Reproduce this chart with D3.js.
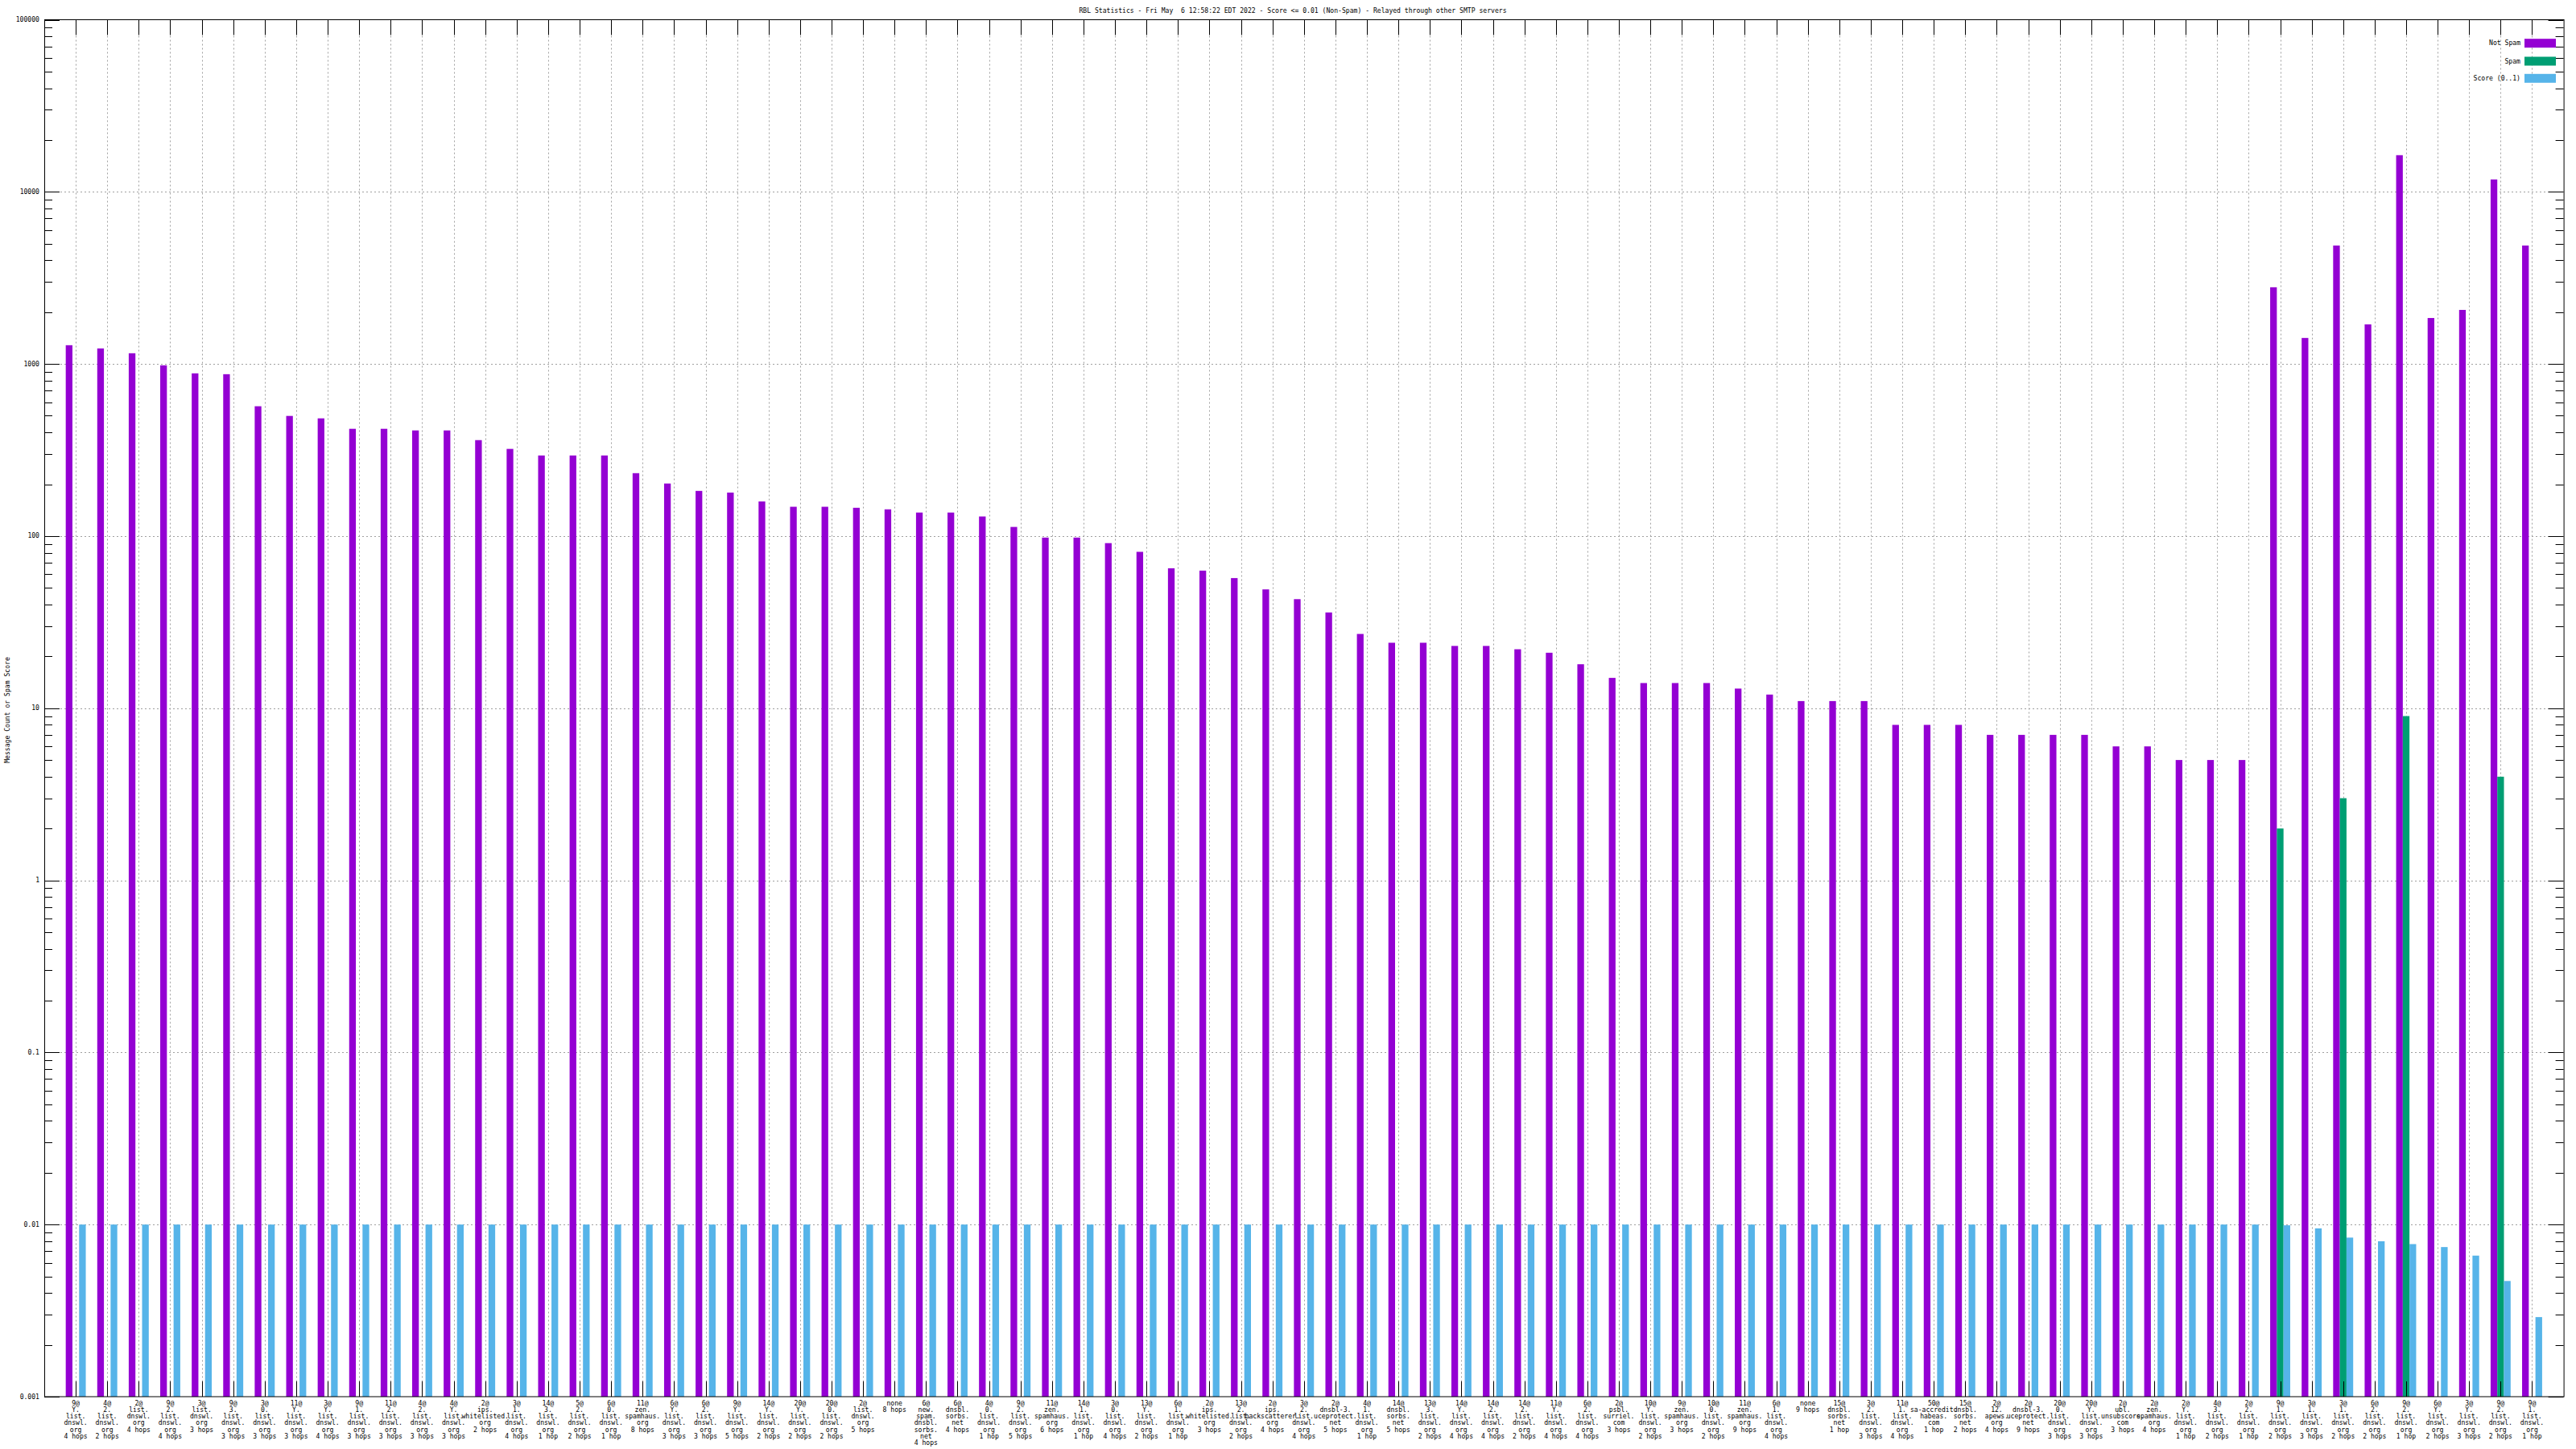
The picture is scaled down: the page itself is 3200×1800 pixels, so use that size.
<!DOCTYPE html>
<html><head><meta charset="utf-8">
<script src="https://cdn.jsdelivr.net/npm/d3@7"></script>
<style>
body{margin:0;background:#fff}
svg{display:block}
text{font-family:"DejaVu Sans Mono",monospace;fill:#000}
</style>
</head><body>
<script>
const categories = [
"9@\nY.\nlist.\ndnswl.\norg\n4 hops","4@\n2.\nlist.\ndnswl.\norg\n2 hops","2@\nlist.\ndnswl.\norg\n4 hops","9@\n2.\nlist.\ndnswl.\norg\n4 hops",
"3@\nlist.\ndnswl.\norg\n3 hops","9@\n3.\nlist.\ndnswl.\norg\n3 hops","3@\n0.\nlist.\ndnswl.\norg\n3 hops","11@\nY.\nlist.\ndnswl.\norg\n3 hops",
"3@\nY.\nlist.\ndnswl.\norg\n4 hops","9@\n1.\nlist.\ndnswl.\norg\n3 hops","11@\n2.\nlist.\ndnswl.\norg\n3 hops","4@\n2.\nlist.\ndnswl.\norg\n3 hops",
"4@\nY.\nlist.\ndnswl.\norg\n3 hops","2@\nips.\nwhitelisted.\norg\n2 hops","3@\n1.\nlist.\ndnswl.\norg\n4 hops","14@\n3.\nlist.\ndnswl.\norg\n1 hop",
"5@\n2.\nlist.\ndnswl.\norg\n2 hops","6@\n0.\nlist.\ndnswl.\norg\n1 hop","11@\nzen.\nspamhaus.\norg\n8 hops","6@\nY.\nlist.\ndnswl.\norg\n3 hops",
"6@\n2.\nlist.\ndnswl.\norg\n3 hops","9@\nY.\nlist.\ndnswl.\norg\n5 hops","14@\nY.\nlist.\ndnswl.\norg\n2 hops","20@\nY.\nlist.\ndnswl.\norg\n2 hops",
"20@\n0.\nlist.\ndnswl.\norg\n2 hops","2@\nlist.\ndnswl.\norg\n5 hops","none\n8 hops","6@\nnew.\nspam.\ndnsbl.\nsorbs.\nnet\n4 hops",
"6@\ndnsbl.\nsorbs.\nnet\n4 hops","4@\n0.\nlist.\ndnswl.\norg\n1 hop","9@\n2.\nlist.\ndnswl.\norg\n5 hops","11@\nzen.\nspamhaus.\norg\n6 hops",
"14@\n1.\nlist.\ndnswl.\norg\n1 hop","3@\n0.\nlist.\ndnswl.\norg\n4 hops","13@\nY.\nlist.\ndnswl.\norg\n2 hops","6@\n1.\nlist.\ndnswl.\norg\n1 hop",
"2@\nips.\nwhitelisted.\norg\n3 hops","13@\n2.\nlist.\ndnswl.\norg\n2 hops","2@\nips.\nbackscatterer.\norg\n4 hops","3@\n2.\nlist.\ndnswl.\norg\n4 hops",
"2@\ndnsbl-3.\nuceprotect.\nnet\n5 hops","4@\n1.\nlist.\ndnswl.\norg\n1 hop","14@\ndnsbl.\nsorbs.\nnet\n5 hops","13@\n3.\nlist.\ndnswl.\norg\n2 hops",
"14@\nY.\nlist.\ndnswl.\norg\n4 hops","14@\n2.\nlist.\ndnswl.\norg\n4 hops","14@\n2.\nlist.\ndnswl.\norg\n2 hops","11@\nY.\nlist.\ndnswl.\norg\n4 hops",
"6@\n2.\nlist.\ndnswl.\norg\n4 hops","2@\npsbl.\nsurriel.\ncom\n3 hops","10@\nY.\nlist.\ndnswl.\norg\n2 hops","9@\nzen.\nspamhaus.\norg\n3 hops",
"10@\n0.\nlist.\ndnswl.\norg\n2 hops","11@\nzen.\nspamhaus.\norg\n9 hops","6@\n1.\nlist.\ndnswl.\norg\n4 hops","none\n9 hops",
"15@\ndnsbl.\nsorbs.\nnet\n1 hop","3@\n2.\nlist.\ndnswl.\norg\n3 hops","11@\n1.\nlist.\ndnswl.\norg\n4 hops","50@\nsa-accredit.\nhabeas.\ncom\n1 hop",
"15@\ndnsbl.\nsorbs.\nnet\n2 hops","2@\n12.\napews.\norg\n4 hops","2@\ndnsbl-3.\nuceprotect.\nnet\n9 hops","20@\n0.\nlist.\ndnswl.\norg\n3 hops",
"20@\nY.\nlist.\ndnswl.\norg\n3 hops","2@\nubl.\nunsubscore.\ncom\n3 hops","2@\nzen.\nspamhaus.\norg\n4 hops","2@\nY.\nlist.\ndnswl.\norg\n1 hop",
"4@\n3.\nlist.\ndnswl.\norg\n2 hops","2@\n2.\nlist.\ndnswl.\norg\n1 hop","9@\n1.\nlist.\ndnswl.\norg\n2 hops","3@\n1.\nlist.\ndnswl.\norg\n3 hops",
"3@\n1.\nlist.\ndnswl.\norg\n2 hops","6@\n2.\nlist.\ndnswl.\norg\n2 hops","9@\n2.\nlist.\ndnswl.\norg\n1 hop","6@\nY.\nlist.\ndnswl.\norg\n2 hops",
"3@\nY.\nlist.\ndnswl.\norg\n3 hops","9@\n2.\nlist.\ndnswl.\norg\n2 hops","9@\n1.\nlist.\ndnswl.\norg\n1 hop"
];
const notSpam = [
1285,1231,1154,982,882,872,568,499,483,420,
420,411,411,361,321,294,294,294,232,202,
183,179,159,148,148,146,143,137,137,130,
113,98,98,91,81,65,63,57,49,43,
36,27,24,24,23,23,22,21,18,15,
14,14,14,13,12,11,11,11,8,8,
8,7,7,7,7,6,6,5,5,5,
2790,1416,4875,1698,16330,1849,2061,11800,4875
];
const spam = [
0,0,0,0,0,0,0,0,0,0,0,0,0,0,0,0,0,0,0,0,
0,0,0,0,0,0,0,0,0,0,0,0,0,0,0,0,0,0,0,0,
0,0,0,0,0,0,0,0,0,0,0,0,0,0,0,0,0,0,0,0,
0,0,0,0,0,0,0,0,0,0,
2,0,3,0,9,0,0,4,0
];
const score = [
0.01,0.01,0.01,0.01,0.01,0.01,0.01,0.01,0.01,0.01,0.01,0.01,0.01,0.01,0.01,0.01,0.01,0.01,0.01,0.01,
0.01,0.01,0.01,0.01,0.01,0.01,0.01,0.01,0.01,0.01,0.01,0.01,0.01,0.01,0.01,0.01,0.01,0.01,0.01,0.01,
0.01,0.01,0.01,0.01,0.01,0.01,0.01,0.01,0.01,0.01,0.01,0.01,0.01,0.01,0.01,0.01,0.01,0.01,0.01,0.01,
0.01,0.01,0.01,0.01,0.01,0.01,0.01,0.01,0.01,0.01,
0.0099,0.0095,0.0084,0.0080,0.0077,0.0074,0.0066,0.0047,0.0029
];
const seriesNames = ["Not Spam","Spam","Score (0..1)"];
const seriesColors = ["#9400d3","#009e73","#56b4e9"];
const yTickValues = [100000,10000,1000,100,10,1,0.1,0.01,0.001];
const yTickLabels = ["100000","10000","1000","100","10","1","0.1","0.01","0.001"];
const titleText = "RBL Statistics - Fri May  6 12:58:22 EDT 2022 - Score <= 0.01 (Non-Spam) - Relayed through other SMTP servers";
const yAxisTitle = "Message Count or Spam Score";

const W = 3200, H = 1800;
const L = 55, R = 3184.6, T = 24.5, B = 1735;
const FS = 8.1;

const svg = d3.select("body").append("svg").attr("width", W).attr("height", H)
  .style("background", "#fff");
svg.append("rect").attr("width", W).attr("height", H).attr("fill", "#fff");

const n = categories.length;
const x = d3.scaleLinear().domain([-1, n]).range([L, R]);
const y = d3.scaleLog().domain([0.001, 100000]).range([B, T]);
const unit = x(1) - x(0);
const bw = unit * 0.212;

// grid
const grid = svg.append("g").attr("stroke", "#a0a0a0").attr("stroke-width", 1).attr("stroke-dasharray", "2,3");
yTickValues.filter(v => v > 0.001 && v < 100000).forEach(v => {
  grid.append("line").attr("x1", L).attr("x2", R).attr("y1", Math.round(y(v)) + 0.5).attr("y2", Math.round(y(v)) + 0.5);
});
d3.range(n).forEach(i => {
  const cx = Math.round(x(i)) + 0.5;
  grid.append("line").attr("x1", cx).attr("x2", cx).attr("y1", T).attr("y2", B);
});

// bars
const seriesData = [notSpam, spam, score];
const bars = svg.append("g");
seriesData.forEach((arr, s) => {
  bars.selectAll(null).data(arr.map((v, i) => ({v, i})).filter(d => d.v > 0))
    .enter().append("rect")
    .attr("x", d => x(d.i) + (s - 1.5) * bw)
    .attr("width", bw)
    .attr("y", d => y(d.v))
    .attr("height", d => B - y(d.v))
    .attr("fill", seriesColors[s]);
});

// ticks
const tk = svg.append("g").attr("stroke", "#000").attr("stroke-width", 1);
const majLen = 19, minLen = 10;
d3.range(n).forEach(i => {
  const cx = Math.round(x(i)) + 0.5;
  tk.append("line").attr("x1", cx).attr("x2", cx).attr("y1", B).attr("y2", B - majLen);
  tk.append("line").attr("x1", cx).attr("x2", cx).attr("y1", T).attr("y2", T + majLen);
});
const minorVals = [];
for (let e = -3; e < 5; e++) for (let m = 2; m <= 9; m++) minorVals.push(m * Math.pow(10, e));
minorVals.forEach(v => {
  const yy = Math.round(y(v)) + 0.5;
  tk.append("line").attr("x1", L).attr("x2", L + minLen).attr("y1", yy).attr("y2", yy);
  tk.append("line").attr("x1", R).attr("x2", R - minLen).attr("y1", yy).attr("y2", yy);
});
yTickValues.forEach(v => {
  const yy = Math.round(y(v)) + 0.5;
  tk.append("line").attr("x1", L).attr("x2", L + majLen).attr("y1", yy).attr("y2", yy);
  tk.append("line").attr("x1", R).attr("x2", R - majLen).attr("y1", yy).attr("y2", yy);
});

// border
svg.append("rect").attr("x", L + 0.5).attr("y", T).attr("width", R - L).attr("height", B - T)
  .attr("fill", "none").attr("stroke", "#000").attr("stroke-width", 1);

// y tick labels
svg.append("g").selectAll("text").data(yTickValues).enter().append("text")
  .attr("x", 49).attr("y", v => y(v)).attr("text-anchor", "end").attr("dominant-baseline", "middle")
  .attr("font-size", FS)
  .text((v, i) => yTickLabels[i]);

// x labels
const xl = svg.append("g");
categories.forEach((c, i) => {
  const t = xl.append("text").attr("x", x(i)).attr("y", 1742.5).attr("text-anchor", "middle")
    .attr("font-size", FS).attr("dominant-baseline", "middle");
  c.split("\n").forEach((line, k) => {
    t.append("tspan").attr("x", x(i)).attr("dy", k === 0 ? 0 : 8.25).text(line);
  });
});

// title
svg.append("text").attr("x", 1606).attr("y", 13).attr("text-anchor", "middle")
  .attr("dominant-baseline", "middle").attr("font-size", FS)
  .style("white-space", "pre").text(titleText);

// y axis title
svg.append("text").attr("transform", "translate(9,882) rotate(-90)").attr("text-anchor", "middle")
  .attr("dominant-baseline", "middle").attr("font-size", FS).text(yAxisTitle);

// legend
const legY = [53.7, 76, 97.3];
const leg = svg.append("g");
seriesNames.forEach((nm, s) => {
  leg.append("text").attr("x", 3131).attr("y", legY[s]).attr("text-anchor", "end")
    .attr("dominant-baseline", "middle").attr("font-size", FS).style("white-space", "pre").text(nm);
  leg.append("rect").attr("x", 3136).attr("y", legY[s] - 5.5).attr("width", 39).attr("height", 11)
    .attr("fill", seriesColors[s]);
});
</script>
</body></html>
